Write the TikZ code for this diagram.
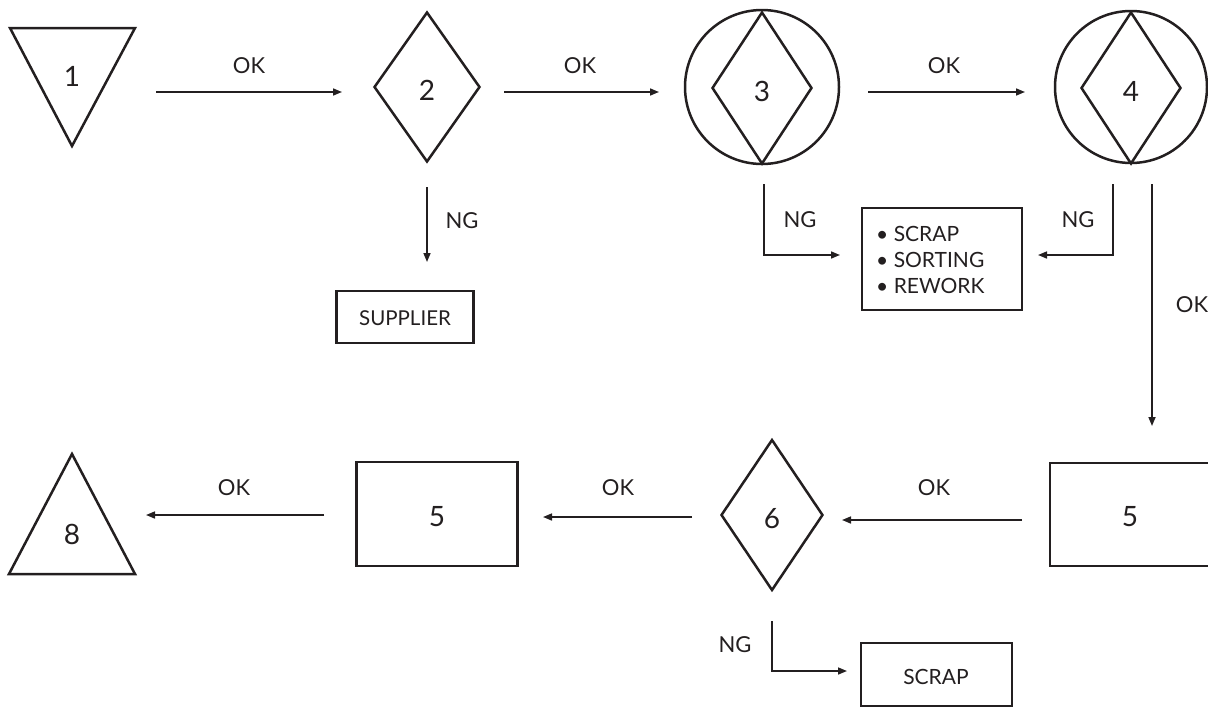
\documentclass[tikz,border=0pt]{standalone}
\usepackage{fontspec}
\setmainfont{Lato}
\usetikzlibrary{shapes.geometric,arrows.meta}
\definecolor{ink}{RGB}{35,31,32}
\begin{document}
\begin{tikzpicture}[x=1pt,y=-1pt,
  shp/.style={draw=ink,line width=2.5pt,line join=miter},
  conn/.style={draw=ink,line width=1.6pt,-{Triangle[length=9pt,width=7pt]}},
  lbl/.style={text=ink,font=\fontsize{22}{26}\selectfont,inner sep=0pt},
  num/.style={text=ink,font=\fontsize{28}{32}\selectfont,inner sep=0pt},
  boxtxt/.style={text=ink,font=\fontsize{21}{26}\selectfont,inner sep=0pt},
  dia/.style={shp,shape=diamond,inner sep=0pt},
  rect/.style={shp,shape=rectangle,inner sep=0pt},
  circ/.style={shp,shape=circle,inner sep=0pt}]
\useasboundingbox (0,0) rectangle (1208,707);

% ---- shapes
\draw[shp] (10,28) -- (135,28) -- (72,146) -- cycle;
\node[num] (n1) at (72,76) {1};

\node[dia,minimum width=106pt,minimum height=150pt] (d2) at (427,87) {};
\node[num] (n2) at (427,90) {2};

\node[circ,minimum size=154pt] (c3) at (762,87) {};
\node[dia,minimum width=100pt,minimum height=152pt] (d3) at (762,88) {};
\node[num] (n3) at (762,91) {3};

\node[circ,minimum size=152pt] (c4) at (1131,87) {};
\node[dia,minimum width=100pt,minimum height=152pt] (d4) at (1131,88) {};
\node[num] (n4) at (1131,91) {4};

\node[rect,minimum width=160pt,minimum height=102pt] (bx) at (942,259) {};
\node[boxtxt,align=left,anchor=west] (bxt) at (876,260) {• SCRAP\\• SORTING\\• REWORK};

\node[rect,minimum width=137pt,minimum height=52pt] (sup) at (405,317) {};
\node[boxtxt,font=\fontsize{20.5}{24}\selectfont] (supt) at (405,318) {SUPPLIER};

\draw[shp] (1208,463) -- (1050,463) -- (1050,566) -- (1208,566);
\node[num] (n5r) at (1130,517) {5};

\node[dia,minimum width=102pt,minimum height=151pt] (d6) at (772,515) {};
\node[num] (n6) at (772,519) {6};

\node[rect,minimum width=161pt,minimum height=104pt] (l5) at (437,514) {};
\node[num] (n5l) at (437,517) {5};

\draw[shp] (72,454) -- (135,574) -- (9,574) -- cycle;
\node[num] (n8) at (72,534) {8};

\draw[shp] (1012,643) -- (861,643) -- (861,706) -- (1012,706) -- cycle;
\node[boxtxt] (scr) at (936,677) {SCRAP};

% ---- connector end points
\coordinate (a1s) at (156,92);  \coordinate (a1e) at (342,92);
\coordinate (a2s) at (504,92);  \coordinate (a2e) at (659,92);
\coordinate (a3s) at (868,92);  \coordinate (a3e) at (1025,92);
\coordinate (ngs2) at (427,187); \coordinate (nge2) at (427,262);
\coordinate (ng3s) at (764,184); \coordinate (ng3c) at (764,255); \coordinate (ng3e) at (840,255);
\coordinate (ng4s) at (1113,184); \coordinate (ng4c) at (1113,255); \coordinate (ng4e) at (1038,255);
\coordinate (oks) at (1152,184); \coordinate (oke) at (1152,426);
\coordinate (a5s) at (1022,520); \coordinate (a5e) at (842,520);
\coordinate (a6s) at (692,517); \coordinate (a6e) at (543,517);
\coordinate (a7s) at (324,515); \coordinate (a7e) at (146,515);
\coordinate (ng6s) at (772,621); \coordinate (ng6c) at (772,671); \coordinate (ng6e) at (847,671);

% ---- connectors
\draw[conn] (a1s) -- (a1e);
\draw[conn] (a2s) -- (a2e);
\draw[conn] (a3s) -- (a3e);
\draw[conn] (ngs2) -- (nge2);
\draw[conn] (ng3s) -- (ng3c) -- (ng3e);
\draw[conn] (ng4s) -- (ng4c) -- (ng4e);
\draw[conn] (oks) -- (oke);
\draw[conn] (a5s) -- (a5e);
\draw[conn] (a6s) -- (a6e);
\draw[conn] (a7s) -- (a7e);
\draw[conn] (ng6s) -- (ng6c) -- (ng6e);

% ---- labels
\node[lbl] (l1) at (249,66) {OK};
\node[lbl] (l2) at (580,66) {OK};
\node[lbl] (l3) at (944,66) {OK};
\node[lbl] (l4) at (462,221) {NG};
\node[lbl] (l5) at (800,220) {NG};
\node[lbl] (l6) at (1078,220) {NG};
\node[lbl] (l7) at (1192,305) {OK};
\node[lbl] (l8) at (934,488) {OK};
\node[lbl] (l9) at (618,488) {OK};
\node[lbl] (l10) at (234,488) {OK};
\node[lbl] (l11) at (735,645) {NG};
\end{tikzpicture}
\end{document}
